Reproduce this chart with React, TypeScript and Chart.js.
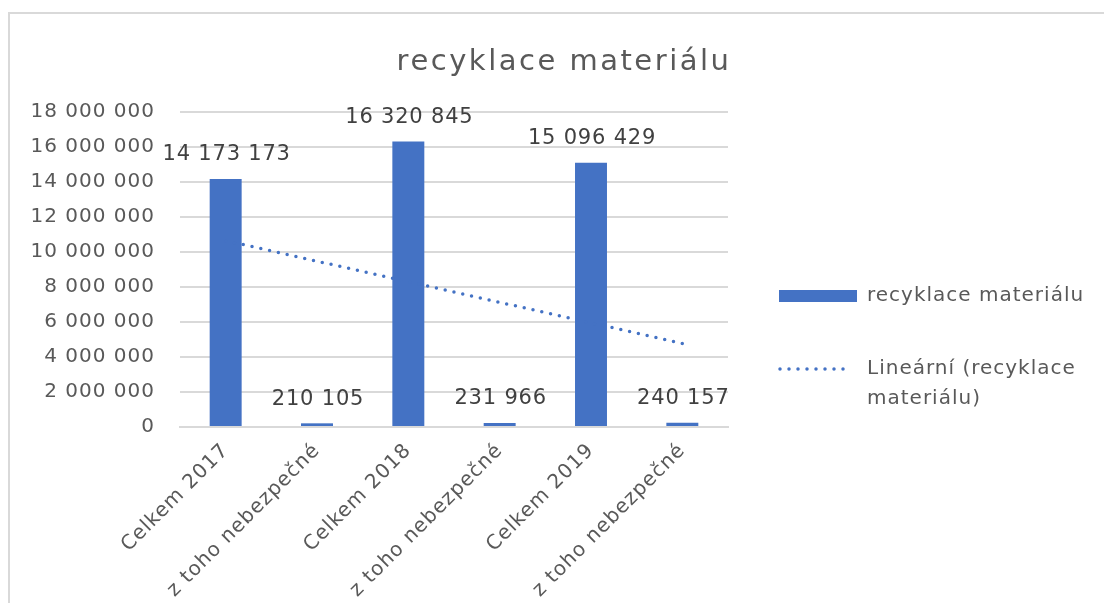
import { useEffect, useRef } from "react";
import { Chart, registerables } from "chart.js";

Chart.register(...registerables);

const chartTitle = "recyklace materiálu";
const categories = [
  "Celkem 2017",
  "z toho nebezpečné",
  "Celkem 2018",
  "z toho nebezpečné",
  "Celkem 2019",
  "z toho nebezpečné",
];
const seriesLabel = "recyklace materiálu";
const seriesValues = [14173173, 210105, 16320845, 231966, 15096429, 240157];
const trendLabel = "Lineární (recyklace materiálu)";
const yTickValues = [0, 2000000, 4000000, 6000000, 8000000, 10000000, 12000000, 14000000, 16000000, 18000000];

const FONT = "'DejaVu Sans', sans-serif";
const BLUE = "#4472C4";
const GREY_TEXT = "#595959";
const GRID = "#d9d9d9";

const fmt = (v: number) => String(Math.round(v)).replace(/\B(?=(\d{3})+(?!\d))/g, " ");

// Excel-style linear trendline (least squares over category index 1..n)
function linearTrend(vals: number[]): number[] {
  const n = vals.length;
  const xs = vals.map((_, i) => i + 1);
  const mx = xs.reduce((a, b) => a + b, 0) / n;
  const my = vals.reduce((a, b) => a + b, 0) / n;
  let sxy = 0;
  let sxx = 0;
  for (let i = 0; i < n; i++) {
    sxy += (xs[i] - mx) * (vals[i] - my);
    sxx += (xs[i] - mx) * (xs[i] - mx);
  }
  const b = sxy / sxx;
  const a = my - b * mx;
  return xs.map((x) => a + b * x);
}
const trendValues = linearTrend(seriesValues);

const spacingPlugin = {
  id: "spacing",
  beforeUpdate(chart: any) {
    chart.ctx.letterSpacing = "1px";
  },
  beforeDraw(chart: any) {
    chart.ctx.letterSpacing = "1px";
  },
};

const titlePlugin = {
  id: "customTitle",
  afterDraw(chart: any) {
    const ctx = chart.ctx as CanvasRenderingContext2D;
    ctx.save();
    (ctx as any).letterSpacing = "2.5px";
    ctx.font = `29px ${FONT}`;
    ctx.fillStyle = GREY_TEXT;
    ctx.textAlign = "center";
    ctx.textBaseline = "alphabetic";
    ctx.fillText(chartTitle, 564, 70);
    ctx.restore();
  },
};

const dataLabelPlugin = {
  id: "dataLabels",
  afterDatasetsDraw(chart: any) {
    const ctx = chart.ctx as CanvasRenderingContext2D;
    const meta = chart.getDatasetMeta(0);
    const data = chart.data.datasets[0].data as number[];
    ctx.save();
    (ctx as any).letterSpacing = "0.8px";
    ctx.font = `21px ${FONT}`;
    ctx.fillStyle = "#404040";
    ctx.textAlign = "center";
    ctx.textBaseline = "middle";
    meta.data.forEach((bar: any, i: number) => {
      ctx.fillText(fmt(data[i]), bar.x + 1, bar.y - 24);
    });
    ctx.restore();
  },
};

function wrapText(ctx: CanvasRenderingContext2D, text: string, maxWidth: number): string[] {
  const words = text.split(" ");
  const lines: string[] = [];
  let cur = "";
  for (const w of words) {
    const test = cur ? cur + " " + w : w;
    if (ctx.measureText(test).width > maxWidth && cur) {
      lines.push(cur);
      cur = w;
    } else {
      cur = test;
    }
  }
  if (cur) lines.push(cur);
  return lines;
}

const legendPlugin = {
  id: "customLegend",
  afterDraw(chart: any) {
    const ctx = chart.ctx as CanvasRenderingContext2D;
    const ds = chart.data.datasets;
    ctx.save();
    (ctx as any).letterSpacing = "1px";
    ctx.font = `20px ${FONT}`;
    ctx.fillStyle = GREY_TEXT;
    ctx.textAlign = "left";
    ctx.textBaseline = "middle";
    const symX = 779;
    const textX = 867;
    const maxW = 1104 - textX - 8;

    // item 0: bar
    ctx.fillStyle = ds[0].backgroundColor;
    ctx.fillRect(symX, 290, 78, 12);
    ctx.fillStyle = GREY_TEXT;
    wrapText(ctx, ds[0].label, maxW).forEach((l, i) => ctx.fillText(l, textX, 296 + i * 30));

    // item 1: dotted trendline
    ctx.save();
    ctx.strokeStyle = ds[1].borderColor;
    ctx.lineWidth = 3.5;
    ctx.lineCap = "round";
    ctx.setLineDash([0, 9]);
    ctx.beginPath();
    ctx.moveTo(symX + 1, 369);
    ctx.lineTo(symX + 73, 369);
    ctx.stroke();
    ctx.restore();
    wrapText(ctx, ds[1].label, maxW).forEach((l, i) => ctx.fillText(l, textX, 369 + i * 30));
    ctx.restore();
  },
};

export default function App() {
  const canvasRef = useRef<HTMLCanvasElement | null>(null);

  useEffect(() => {
    if (!canvasRef.current) return;
    const chart = new Chart(canvasRef.current, {
      type: "bar",
      data: {
        labels: categories,
        datasets: [
          {
            type: "bar",
            label: seriesLabel,
            data: seriesValues,
            backgroundColor: BLUE,
            barPercentage: 0.35,
            categoryPercentage: 1,
            order: 2,
          } as any,
          {
            type: "line",
            label: trendLabel,
            data: trendValues,
            borderColor: BLUE,
            borderWidth: 3.5,
            borderDash: [0, 9],
            borderCapStyle: "round",
            pointRadius: 0,
            fill: false,
            tension: 0,
            order: 1,
          } as any,
        ],
      },
      options: {
        animation: false,
        responsive: false,
        devicePixelRatio: 1,
        layout: { padding: { top: 112, left: 10, right: 376, bottom: 0 } },
        plugins: {
          legend: { display: false },
          title: { display: false },
          tooltip: { enabled: false },
        },
        scales: {
          x: {
            grid: { display: false, drawTicks: false },
            border: { display: true, color: GRID, width: 2 },
            ticks: {
              color: GREY_TEXT,
              font: { family: FONT, size: 20 },
              minRotation: 45,
              maxRotation: 45,
              autoSkip: false,
              padding: 12,
            },
            afterFit: (s: any) => {
              s.height = 176;
            },
          },
          y: {
            min: 0,
            max: 18000000,
            grid: { color: GRID, lineWidth: 2, drawTicks: false },
            border: { display: false },
            ticks: {
              color: GREY_TEXT,
              font: { family: FONT, size: 20 },
              padding: 25,
              callback: (v: any) => fmt(Number(v)),
            },
            afterBuildTicks: (s: any) => {
              s.ticks = yTickValues.map((v) => ({ value: v }));
            },
            afterFit: (s: any) => {
              s.width = 170;
            },
          },
        },
      } as any,
      plugins: [spacingPlugin, titlePlugin, dataLabelPlugin, legendPlugin],
    });
    return () => chart.destroy();
  }, []);

  return (
    <div style={{ position: "fixed", left: 0, top: 0, width: 1104, height: 603, background: "#fff", overflow: "hidden" }}>
      <div
        style={{
          position: "absolute",
          left: 8,
          top: 12,
          width: 1096,
          height: 591,
          boxSizing: "border-box",
          borderLeft: `2px solid ${GRID}`,
          borderTop: `2px solid ${GRID}`,
        }}
      />
      <canvas ref={canvasRef} width={1104} height={603} style={{ position: "absolute", left: 0, top: 0 }} />
    </div>
  );
}
